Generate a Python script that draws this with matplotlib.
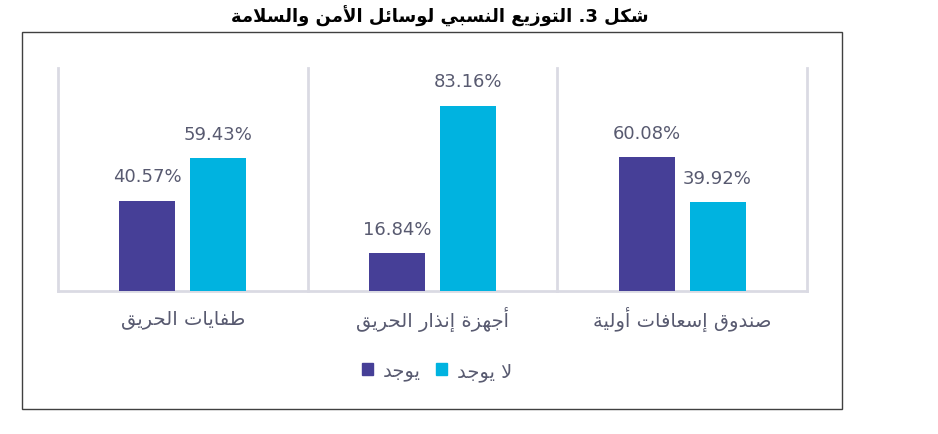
import re
import matplotlib
matplotlib.use("Agg")
import matplotlib.pyplot as plt
from matplotlib.patches import Rectangle, Patch
import numpy as np

# data
categories = ["طفايات الحريق", "أجهزة إنذار الحريق", "صندوق إسعافات أولية"]
yes_vals = [40.57, 16.84, 60.08]
no_vals = [59.43, 83.16, 39.92]
series_names = ["يوجد", "لا يوجد"]
title = "شكل 3. التوزيع النسبي لوسائل الأمن والسلامة"

purple = "#463F97"
cyan = "#00B3E0"
text_col = "#585A70"

# --- minimal arabic shaping (matplotlib does not join letters itself) ---
FORMS = {
    'ء': (0xFE80, 1), 'آ': (0xFE81, 2), 'أ': (0xFE83, 2), 'ؤ': (0xFE85, 2),
    'إ': (0xFE87, 2), 'ئ': (0xFE89, 4), 'ا': (0xFE8D, 2), 'ب': (0xFE8F, 4),
    'ة': (0xFE93, 2), 'ت': (0xFE95, 4), 'ث': (0xFE99, 4), 'ج': (0xFE9D, 4),
    'ح': (0xFEA1, 4), 'خ': (0xFEA5, 4), 'د': (0xFEA9, 2), 'ذ': (0xFEAB, 2),
    'ر': (0xFEAD, 2), 'ز': (0xFEAF, 2), 'س': (0xFEB1, 4), 'ش': (0xFEB5, 4),
    'ص': (0xFEB9, 4), 'ض': (0xFEBD, 4), 'ط': (0xFEC1, 4), 'ظ': (0xFEC5, 4),
    'ع': (0xFEC9, 4), 'غ': (0xFECD, 4), 'ف': (0xFED1, 4), 'ق': (0xFED5, 4),
    'ك': (0xFED9, 4), 'ل': (0xFEDD, 4), 'م': (0xFEE1, 4), 'ن': (0xFEE5, 4),
    'ه': (0xFEE9, 4), 'و': (0xFEED, 2), 'ى': (0xFEEF, 2), 'ي': (0xFEF1, 4),
}
LAM_ALEF = {'آ': 0xFEF5, 'أ': 0xFEF7, 'إ': 0xFEF9, 'ا': 0xFEFB}


def ar(text):
    toks = []
    i = 0
    while i < len(text):
        c = text[i]
        if c == 'ل' and i + 1 < len(text) and text[i + 1] in LAM_ALEF:
            toks.append(('LA', text[i + 1]))
            i += 2
        else:
            toks.append(('C', c))
            i += 1

    def is_ar(t):
        return t is not None and (t[0] == 'LA' or t[1] in FORMS)

    def joins_next(t):
        return t is not None and t[0] == 'C' and t[1] in FORMS and FORMS[t[1]][1] == 4

    out = []
    for k, t in enumerate(toks):
        prev = toks[k - 1] if k > 0 else None
        nxt = toks[k + 1] if k + 1 < len(toks) else None
        jp = joins_next(prev)
        if t[0] == 'LA':
            out.append(chr(LAM_ALEF[t[1]] + (1 if jp else 0)))
            continue
        c = t[1]
        if c not in FORMS:
            out.append(c)
            continue
        base, n = FORMS[c]
        if n == 1:
            out.append(chr(base))
            continue
        jn = n == 4 and is_ar(nxt)
        if jp and jn:
            out.append(chr(base + 3))
        elif jp:
            out.append(chr(base + 1))
        elif jn:
            out.append(chr(base + 2))
        else:
            out.append(chr(base))
    vis = ''.join(out)[::-1]
    # put number runs back in reading order
    return re.sub(r'[0-9A-Za-z%]+', lambda m: m.group(0)[::-1], vis)


plt.rcParams['font.family'] = ['DejaVu Sans']

fig = plt.figure(figsize=(9.38, 4.35), dpi=100)
ax = fig.add_axes([0.0618, 0.3287, 0.7985, 0.5127])

x = np.arange(len(categories))
w = 0.224
off = 0.142
b1 = ax.bar(x - off, yes_vals, w, color=purple, zorder=3)
b2 = ax.bar(x + off, no_vals, w, color=cyan, zorder=3)

for bars, vals in ((b1, yes_vals), (b2, no_vals)):
    for r, v in zip(bars, vals):
        ax.annotate(f"{v:.2f}%", (r.get_x() + r.get_width() / 2, r.get_height()),
                    xytext=(0, 11), textcoords="offset points",
                    ha="center", va="bottom", fontsize=13, color=text_col)

ax.set_xlim(-0.5, len(categories) - 0.5)
ax.set_ylim(0, 100)
for xv in np.arange(len(categories) + 1) - 0.5:
    ax.axvline(xv, color="#DADAE3", lw=2, zorder=1, clip_on=False)

for s in ("top", "left", "right"):
    ax.spines[s].set_visible(False)
ax.spines["bottom"].set_color("#DADAE3")
ax.spines["bottom"].set_linewidth(2)
ax.set_yticks([])
ax.set_xticks(x)
ax.set_xticklabels([ar(c) for c in categories], fontsize=14, color=text_col,
                   va="center")
ax.tick_params(axis="x", length=0, pad=20)

handles = [Patch(color=purple), Patch(color=cyan)]
fig.legend(handles, [ar(s) for s in series_names], loc="center",
           bbox_to_anchor=(0.466, 0.145), ncol=2, frameon=False,
           handlelength=0.55, handleheight=0.55, handletextpad=0.5,
           columnspacing=0.8, prop={"size": 14}, labelcolor=text_col)

fig.text(0.469, 0.962, ar(title), ha="center", va="center",
         fontsize=13, fontweight="bold", color="black")

fig.patches.append(Rectangle((22 / 938, 1 - 410 / 435), 820 / 938, 377 / 435,
                             transform=fig.transFigure, fill=False,
                             edgecolor="#404040", lw=1))

fig.savefig("out.png", dpi=100)
